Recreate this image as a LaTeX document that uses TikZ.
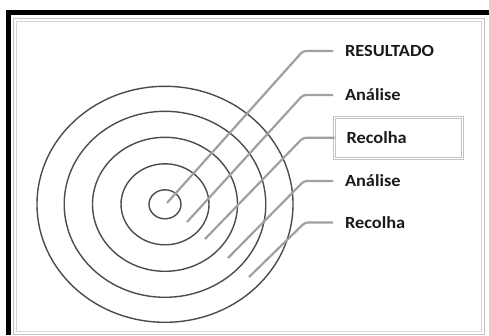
\documentclass[tikz,border=0pt]{standalone}
\usepackage{fontspec}
\newfontfamily\labelfont{Carlito}[FakeStretch=1.08]
\definecolor{ringcol}{HTML}{4C4C4C}
\definecolor{leadcol}{HTML}{A0A0A0}
\definecolor{textcol}{HTML}{1A1A1A}
\definecolor{framecolA}{HTML}{C4C4C4}
\definecolor{framecolB}{HTML}{D6D6D6}
\tikzset{
  ring/.style={draw=ringcol, line width=1.4pt},
  leader/.style={draw=leadcol, line width=2.2pt, rounded corners=3pt},
  lbl/.style={anchor=west, inner xsep=12pt, inner ysep=0pt, outer sep=0pt,
    text width=104pt, align=left, minimum height=41pt,
    text height=11pt, text depth=0pt, text=textcol,
    font=\labelfont\bfseries\fontsize{17}{18}\selectfont},
  boxed/.style={draw=framecolA, line width=0.8pt, double=white, double distance=1.4pt}
}
\begin{document}
\begin{tikzpicture}[x=1pt, y=-1pt]
  \useasboundingbox (0,0) rectangle (489,335);
  \fill[white] (0,0) rectangle (489,335);
  % outer black frame (left and top)
  \fill[black] (6,10) rectangle (11,335);
  \fill[black] (6,10) rectangle (489,15);
  % double grey frame
  \draw[framecolA, line width=1pt] (13.5,18.5) rectangle (484.3,334.2);
  \draw[framecolB, line width=1pt] (16.5,21.5) rectangle (481,331.5);
  % target rings
  \coordinate (c) at (165,204.3);
  \draw[ring] (c) ellipse [x radius=16pt, y radius=14.5pt];
  \draw[ring] (c) ellipse [x radius=44pt, y radius=40.5pt];
  \draw[ring] (c) ellipse [x radius=72.5pt, y radius=67pt];
  \draw[ring] (c) ellipse [x radius=100.8pt, y radius=93pt];
  \draw[ring] (c) ellipse [x radius=128pt, y radius=118pt];
  % labels
  \node[lbl] (l1) at (333,51) {RESULTADO};
  \node[lbl] (l2) at (333,95) {Análise};
  \node[lbl, boxed] (l3) at (334.5,137.8) {Recolha};
  \node[lbl] (l4) at (333,181) {Análise};
  \node[lbl] (l5) at (333,222.5) {Recolha};
  % leader start points
  \coordinate (s1) at (167,203);
  \coordinate (s2) at (187,222);
  \coordinate (s3) at (205,239);
  \coordinate (s4) at (228,258);
  \coordinate (s5) at (249,277);
  % leaders
  \draw[leader] (s1) -- (303,51) -- (l1.west);
  \draw[leader] (s2) -- (303,95) -- (l2.west);
  \draw[leader] (s3) -- (303,137.8) -- (l3.west);
  \draw[leader] (s4) -- (304,181) -- (l4.west);
  \draw[leader] (s5) -- (305,222.5) -- (l5.west);
\end{tikzpicture}
\end{document}
